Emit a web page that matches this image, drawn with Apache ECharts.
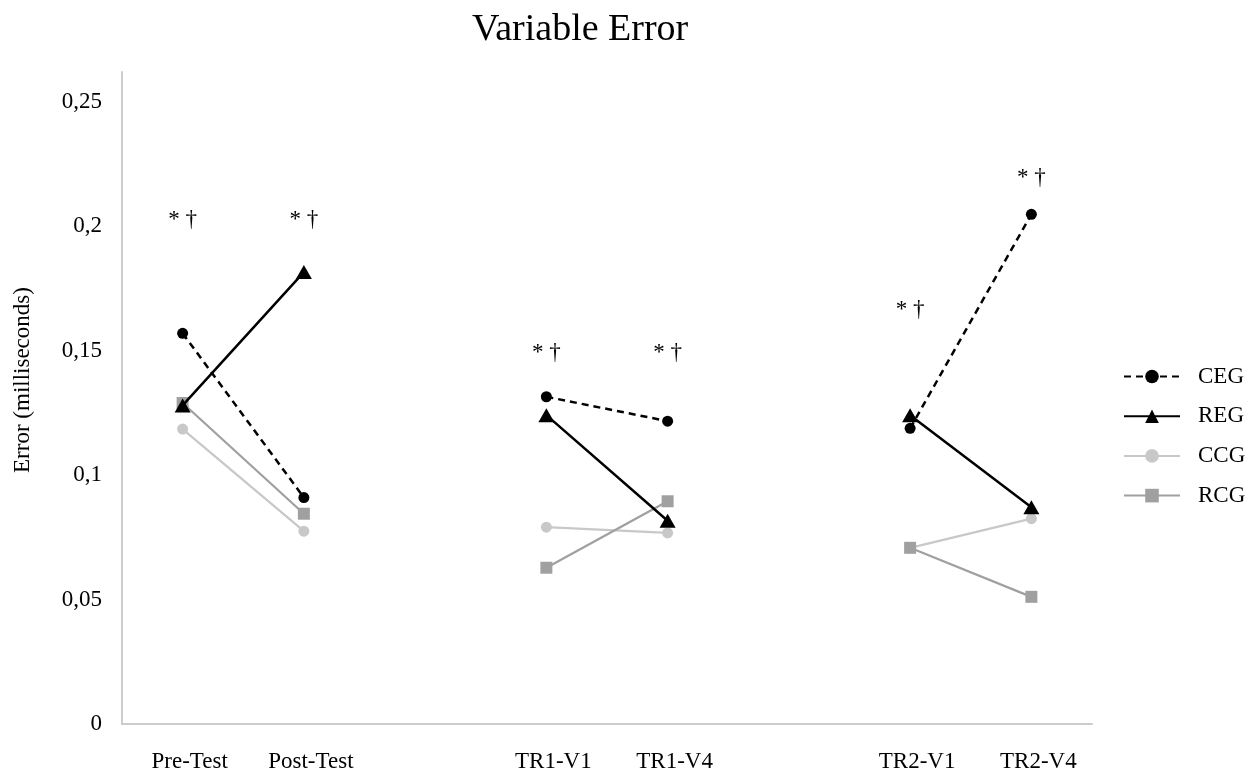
<!DOCTYPE html>
<html>
<head>
<meta charset="utf-8">
<script src="https://cdn.jsdelivr.net/npm/echarts@6/dist/echarts.min.js"></script>
<style>
html,body{margin:0;padding:0;background:#fff;}
#chart{width:1251px;height:773px;}
</style>
</head>
<body>
<div id="chart"></div>
<script>
// Categories (empty strings are spacer categories between groups)
var categories = ['Pre-Test', 'Post-Test', '', 'TR1-V1', 'TR1-V4', '', 'TR2-V1', 'TR2-V4'];
// Series values
var ceg = [0.157, 0.091, null, 0.1315, 0.1217, null, 0.1188, 0.2048];
var reg = [0.128, 0.1816, null, 0.1241, 0.0817, null, 0.1241, 0.0871];
var ccg = [0.1185, 0.0775, null, 0.0791, 0.0768, null, 0.0708, 0.0825];
var rcg = [0.129, 0.0845, null, 0.0628, 0.0895, null, 0.0708, 0.0511];
// Significance annotations: category index, value position, text
var annoCats = [0, 1, 3, 4, 6, 7];
var annoVals = [0.2026, 0.2026, 0.149, 0.149, 0.1662, 0.2195];
var annoText = '* \u2020';
// Y tick values
var yMin = 0, yInterval = 0.05, yMax = 0.262;

var serif = "'Liberation Serif','Times New Roman',serif";
var chart = echarts.init(document.getElementById('chart'));

var annoData = annoCats.map(function (c, i) { return [c, annoVals[i]]; });

chart.setOption({
  backgroundColor: '#fff',
  animation: false,
  title: {
    text: 'Variable Error',
    left: 472,
    top: 11,
    padding: 0,
    textStyle: { fontFamily: serif, fontSize: 38, fontWeight: 'normal', color: '#000' }
  },
  legend: {
    orient: 'vertical',
    left: 1123,
    top: 365,
    padding: 0,
    itemWidth: 56,
    itemHeight: 17,
    itemGap: 16.7,
    data: ['CEG', 'REG', 'CCG', 'RCG'],
    textStyle: { fontFamily: serif, fontSize: 23, color: '#000', padding: [0, 0, 0, 13] }
  },
  grid: { left: 122, right: 159, top: 72, bottom: 46, containLabel: false },
  xAxis: {
    type: 'category',
    data: categories,
    axisLine: { show: true, lineStyle: { color: '#cccccc', width: 2 } },
    axisTick: { show: false },
    axisLabel: {
      interval: 0, margin: 26,
      fontFamily: serif, fontSize: 23, color: '#000',
      padding: [0, 0, 0, 14]
    },
    splitLine: { show: false }
  },
  yAxis: {
    type: 'value',
    min: yMin,
    max: yMax,
    interval: yInterval,
    name: 'Error (milliseconds)',
    nameLocation: 'middle',
    nameGap: 88,
    nameTextStyle: { fontFamily: serif, fontSize: 23, color: '#000', padding: [0, 0, 0, 36] },
    axisLine: { show: true, lineStyle: { color: '#cccccc', width: 2 } },
    axisTick: { show: false },
    splitLine: { show: false },
    axisLabel: {
      margin: 20,
      fontFamily: serif, fontSize: 23, color: '#000',
      formatter: function (v) {
        if (Math.abs(v / yInterval - Math.round(v / yInterval)) > 1e-6) return '';
        return String(Math.round(v * 100) / 100).replace('.', ',');
      }
    }
  },
  series: [
    {
      name: 'CEG', type: 'line', data: ceg, z: 5,
      connectNulls: false,
      symbol: 'circle', symbolSize: 11,
      lineStyle: { color: '#000', width: 2.5, type: [7, 5] },
      itemStyle: { color: '#000' }
    },
    {
      name: 'REG', type: 'line', data: reg, z: 4,
      connectNulls: false,
      symbol: 'triangle', symbolSize: [16, 14],
      lineStyle: { color: '#000', width: 2.5 },
      itemStyle: { color: '#000' }
    },
    {
      name: 'CCG', type: 'line', data: ccg, z: 2,
      connectNulls: false,
      symbol: 'circle', symbolSize: 11,
      lineStyle: { color: '#c8c8c8', width: 2.25 },
      itemStyle: { color: '#c8c8c8' }
    },
    {
      name: 'RCG', type: 'line', data: rcg, z: 3,
      connectNulls: false,
      symbol: 'rect', symbolSize: 12,
      lineStyle: { color: '#a0a0a0', width: 2.25 },
      itemStyle: { color: '#a0a0a0' }
    },
    {
      name: 'annotations', type: 'scatter', data: annoData, z: 6,
      symbolSize: 2, silent: true,
      itemStyle: { color: 'rgba(255,255,255,0)' },
      label: {
        show: true, position: 'inside', formatter: annoText,
        fontFamily: serif, fontSize: 23, color: '#000',
        textBorderWidth: 0, opacity: 1
      }
    }
  ]
});
</script>
</body>
</html>
